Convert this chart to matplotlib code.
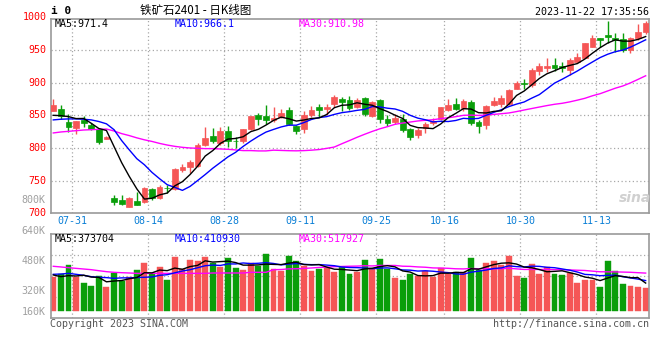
import matplotlib
matplotlib.use('Agg')
import matplotlib.pyplot as plt
import matplotlib.transforms as mtransforms
import numpy as np
import pandas as pd

# ---------------- data ----------------
dates = ['07-27', '07-28', '07-31', '08-01', '08-02', '08-03', '08-04', '08-07', '08-08', '08-09',
         '08-10', '08-11', '08-14', '08-15', '08-16', '08-17', '08-18', '08-21', '08-22', '08-23',
         '08-24', '08-25', '08-28', '08-29', '08-30', '08-31', '09-01', '09-04', '09-05', '09-06',
         '09-07', '09-08', '09-11', '09-12', '09-13', '09-14', '09-15', '09-18', '09-19', '09-20',
         '09-21', '09-22', '09-25', '09-26', '09-27', '09-28', '10-09', '10-10', '10-11', '10-12',
         '10-13', '10-16', '10-17', '10-18', '10-19', '10-20', '10-23', '10-24', '10-25', '10-26',
         '10-27', '10-30', '10-31', '11-01', '11-02', '11-03', '11-06', '11-07', '11-08', '11-09',
         '11-10', '11-13', '11-14', '11-15', '11-16', '11-17', '11-20', '11-21', '11-22']

opens = [857, 860, 840, 830, 843, 835, 829, 814, 723, 721,
         710, 719, 717, 737, 723, 739, 737, 766, 771, 773,
         805, 818, 808, 826, 811, 810, 829, 851, 849, 843,
         847, 858, 833, 829, 851, 862, 860, 868, 875, 873,
         863, 876, 849, 874, 844, 840, 845, 829, 820, 830,
         838, 844, 858, 867, 861, 871, 840, 835, 866, 868,
         868, 891, 900, 896, 918, 922, 927, 925, 919, 932,
         938, 955, 968, 973, 969, 967, 950, 969, 978]
highs = [875, 866, 852, 842, 849, 839, 830, 818, 728, 728,
         725, 733, 740, 738, 743, 744, 770, 775, 781, 808,
         832, 830, 832, 833, 817, 829, 849, 854, 866, 862,
         859, 862, 835, 857, 864, 868, 867, 881, 878, 879,
         876, 878, 872, 875, 850, 852, 852, 831, 831, 840,
         846, 863, 875, 877, 875, 874, 843, 866, 878, 881,
         891, 902, 905, 923, 930, 937, 938, 931, 937, 945,
         961, 973, 969, 994, 976, 976, 970, 990, 995]
lows = [856, 844, 824, 821, 832, 828, 806, 813, 712, 713,
        709, 712, 716, 721, 722, 731, 735, 763, 761, 771,
        803, 807, 805, 801, 800, 808, 828, 835, 836, 840,
        846, 835, 821, 823, 847, 848, 851, 863, 856, 858,
        861, 849, 848, 838, 833, 836, 825, 812, 815, 823,
        835, 843, 857, 858, 857, 835, 823, 829, 864, 863,
        866, 890, 891, 894, 912, 917, 918, 917, 912, 931,
        937, 954, 955, 960, 947, 947, 945, 966, 974]
closes = [866, 849, 832, 841, 838, 829, 809, 817, 718, 715,
          724, 713, 739, 724, 741, 738, 768, 771, 778, 805,
          816, 810, 826, 811, 810, 829, 849, 844, 843, 846,
          854, 837, 826, 851, 858, 858, 863, 878, 870, 861,
          874, 852, 870, 844, 839, 846, 827, 817, 827, 836,
          841, 862, 866, 860, 872, 838, 834, 864, 872, 877,
          889, 900, 898, 919, 926, 925, 923, 923, 935, 940,
          960, 968, 965, 970, 965, 950, 968, 978, 992]

# volume in thousands of lots
volumes = [467, 499, 626, 467, 376, 340, 476, 326, 521, 408,
           462, 558, 653, 512, 598, 422, 734, 571, 694, 680,
           734, 648, 603, 721, 589, 558, 648, 617, 775, 571,
           544, 748, 680, 617, 544, 567, 580, 535, 598, 503,
           526, 698, 580, 712, 567, 444, 422, 503, 476, 544,
           462, 589, 499, 530, 530, 725, 558, 657, 685, 626,
           748, 476, 453, 639, 503, 598, 503, 490, 512, 381,
           422, 422, 331, 685, 544, 367, 340, 331, 317]

ma5_head = [850, 849.5, 848, 845]
ma10_head = [843, 844, 844.5, 844.5, 844, 843, 840.5, 837, 828]
ma30_head = [823, 824.5, 825.5, 826.5, 827.5, 828, 828.6, 829, 826, 822,
             819, 815.5, 812.5, 810, 807, 804.5, 802.5, 801, 800, 799.5,
             799, 799, 798.5, 798, 797, 796, 796, 795.5, 795.5]
vma5_head = [490, 467, 481, 476]
vma10_head = [499, 503, 512, 499, 485, 467, 458, 454, 444]
vma30_head = [608, 599, 589, 580, 571, 562, 548, 535, 526, 521,
              517, 512, 512, 512, 512, 512, 512, 512, 512, 512,
              512, 517, 517, 517, 517, 517, 526, 526, 526]

tick_dates = ['07-31', '08-14', '08-28', '09-11', '09-25', '10-16', '10-30', '11-13']
price_ticks = [700, 750, 800, 850, 900, 950, 1000]
vol_tick_labels = ['800K', '640K', '480K', '320K', '160K']

title_text = '铁矿石2401 - 日K线图'
symbol_text = 'i 0'
stamp_text = '2023-11-22 17:35:56'
price_ma_texts = ['MA5:971.4', 'MA10:966.1', 'MA30:910.98']
vol_ma_texts = ['MA5:373704', 'MA10:410930', 'MA30:517927']


def with_head(values, head, n):
    s = pd.Series(values, dtype=float).rolling(n).mean()
    s.iloc[:len(head)] = head
    return s.values


ma5 = with_head(closes, ma5_head, 5)
ma10 = with_head(closes, ma10_head, 10)
ma30 = with_head(closes, ma30_head, 30)
vma5 = with_head(volumes, vma5_head, 5)
vma10 = with_head(volumes, vma10_head, 10)
vma30 = with_head(volumes, vma30_head, 30)

# ---------------- style ----------------
RED = '#f55656'
GREEN = '#0a9e0a'
GRID = '#a8a8a8'
BORDER = '#9a9a9a'
MONO = ['DejaVu Sans Mono']
plt.rcParams['font.family'] = MONO

W, H = 660, 360
fig = plt.figure(figsize=(W / 100, H / 100), dpi=100)
fig.patch.set_facecolor('white')

L, R = 50.7, 649.0
ax = fig.add_axes([L / W, 1 - 213.3 / H, (R - L) / W, (213.3 - 19.3) / H])
axv = fig.add_axes([L / W, 1 - 318 / H, (R - L) / W, (318 - 234.3) / H])

x = np.arange(len(dates))
xlim = (-0.34, 78.44)
tick_pos = [dates.index(d) + 0.5 for d in tick_dates]

for a in (ax, axv):
    a.set_xlim(*xlim)
    for sp in a.spines.values():
        sp.set_color(BORDER)
        sp.set_linewidth(1.2)
    a.tick_params(length=0, labelleft=False, labelbottom=False)
    a.set_yticks([])
    a.set_xticks([])
    for tp in tick_pos:
        a.axvline(tp, color=GRID, lw=0.9, ls=(0, (1, 2)), zorder=0)

# price panel
ax.set_ylim(700, 997)
for p in price_ticks:
    if 700 < p < 997:
        ax.axhline(p, color=GRID, lw=0.9, ls=(0, (1, 2)), zorder=0)

o = np.array(opens, float); c = np.array(closes, float)
hi = np.array(highs, float); lo = np.array(lows, float)
up = c >= o
cols = np.where(up, RED, GREEN)
ax.vlines(x, lo, hi, colors=cols, lw=1.0, zorder=2)
body_bottom = np.minimum(o, c)
body_h = np.maximum(np.abs(c - o), 1.2)
ax.bar(x, body_h, bottom=body_bottom, width=0.76, color=cols, edgecolor=cols, lw=0.5, zorder=3)

ax.plot(x, ma30, color='#ff00ff', lw=1.0, zorder=4)
ax.plot(x, ma10, color='#0000ff', lw=1.0, zorder=4)
ax.plot(x, ma5, color='black', lw=1.0, zorder=4)

ytr = mtransforms.blended_transform_factory(ax.transAxes, ax.transData)
for p in price_ticks:
    ax.text(-0.007, p, str(p), transform=ytr, ha='right', va='center',
            color='#ff0000', fontsize=7.2, clip_on=False)

for tp, lab in zip(tick_pos, tick_dates):
    ax.text(tp, -0.04, lab, transform=mtransforms.blended_transform_factory(ax.transData, ax.transAxes),
            ha='center', va='center', color='#0a7fd6', fontsize=7.2, clip_on=False)

ma_x = [55, 175, 299]
for xx, t, colr in zip(ma_x, price_ma_texts, ['black', '#0000ff', '#ff00ff']):
    fig.text(xx / W, 1 - 23.7 / H, t, color=colr, fontsize=7.2, va='center', ha='left')

# volume panel
axv.set_ylim(-95.2, 1043.1)
for f in (0.25, 0.5, 0.75):
    axv.axhline(-95.2 + f * (1043.1 + 95.2), color=GRID, lw=0.9, ls=(0, (1, 2)), zorder=0)
axv.bar(x, volumes, width=0.78, color=cols, edgecolor=cols, lw=0.3, zorder=2)
axv.plot(x, vma30, color='#ff00ff', lw=1.0, zorder=4)
axv.plot(x, vma10, color='#0000ff', lw=1.0, zorder=4)
axv.plot(x, vma5, color='black', lw=1.0, zorder=4)

vol_label_y = [1.406, 1.043, 0.681, 0.323, 0.075]
for yy, t in zip(vol_label_y, vol_tick_labels):
    axv.text(-0.009, yy, t, transform=axv.transAxes, ha='right', va='center',
             color='#a0a0a0', fontsize=7.2, clip_on=False, zorder=6)

for xx, t, colr in zip(ma_x, vol_ma_texts, ['black', '#0000ff', '#ff00ff']):
    fig.text(xx / W, 1 - 239 / H, t, color=colr, fontsize=7.2, va='center', ha='left')

# header / footer
fig.text(51 / W, 1 - 11 / H, symbol_text, fontsize=8, weight='bold', va='center', ha='left')
fig.text(140 / W, 1 - 10.5 / H, title_text, fontsize=8.3, va='center', ha='left',
         family=['Noto Sans CJK SC', 'DejaVu Sans'])
fig.text(649 / W, 1 - 12 / H, stamp_text, fontsize=7.2, va='center', ha='right')
fig.text(50 / W, 1 - 324 / H, 'Copyright 2023 SINA.COM', fontsize=7.2, va='center', ha='left', color='#555555')
fig.text(649 / W, 1 - 324 / H, 'http://finance.sina.com.cn', fontsize=7.2, va='center', ha='right', color='#555555')
fig.text(651 / W, 1 - 198 / H, 'sina', fontsize=10, va='center', ha='right', color='#d0d0d0',
         style='italic', weight='bold', family=['DejaVu Sans'], zorder=1)

fig.savefig('out.png', dpi=100, facecolor='white')
